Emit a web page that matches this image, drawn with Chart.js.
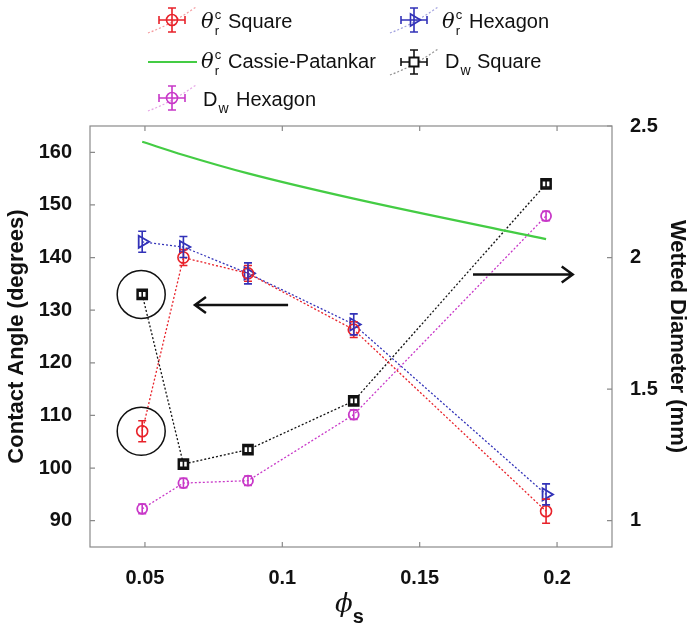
<!DOCTYPE html>
<html>
<head>
<meta charset="utf-8">
<script src="https://cdn.jsdelivr.net/npm/chart.js@4.4.0/dist/chart.umd.min.js"></script>
<style>
  html, body { margin: 0; padding: 0; background: #fff; }
</style>
</head>
<body>
<canvas id="chart" width="690" height="629"></canvas>
<script>
// solid fraction on the x axis
const phi = [0.049, 0.064, 0.0875, 0.126, 0.196];

// contact angle, left axis (degrees)
const thetaSquare = [107, 140, 137, 126.3, 91.8];
const thetaSquareErr = [2, 1.5, 1.5, 1.5, 2.3];
const thetaHexagon = [143, 142, 137, 127.3, 95];
const thetaHexagonErr = [2, 2, 2, 2, 2];
const cassiePatankar = [162, 159.5, 156, 151.2, 143.5];

// wetted diameter, right axis (mm)
const dwSquare = [1.86, 1.215, 1.27, 1.455, 2.28];
const dwSquareErr = [0.012, 0.012, 0.012, 0.012, 0.012];
const dwHexagon = [1.045, 1.143, 1.152, 1.403, 2.158];
const dwHexagonErr = [0.018, 0.018, 0.018, 0.018, 0.018];

const xTicks = [0.05, 0.1, 0.15, 0.2];
const leftTicks = [90, 100, 110, 120, 130, 140, 150, 160];
const rightTicks = [1, 1.5, 2, 2.5];

const red = '#e8222a';
const blue = '#3232b8';
const green = '#44cc44';
const magenta = '#c838c8';
const black = '#111111';
const sans = '"Liberation Sans", Arial, Helvetica, sans-serif';

const pts = ys => ys.map((y, i) => ({ x: phi[i], y: y }));

// error bars drawn on top of the points
const errSeries = [
  { ys: thetaSquare, errs: thetaSquareErr, axis: 'y', color: red },
  { ys: thetaHexagon, errs: thetaHexagonErr, axis: 'y', color: blue },
  { ys: dwSquare, errs: dwSquareErr, axis: 'y2', color: black },
  { ys: dwHexagon, errs: dwHexagonErr, axis: 'y2', color: magenta },
];

// arrows pointing to the axis each group belongs to: [x tail, x tip, y on left axis]
const arrows = [
  [0.1021, 0.0682, 131.0],
  [0.1694, 0.2057, 136.8],
];

function drawMarker(ctx, kind, x, y, color) {
  ctx.save();
  ctx.strokeStyle = color;
  ctx.lineWidth = 1.6;
  ctx.beginPath();
  if (kind === 'circle') {
    ctx.arc(x, y, 5.5, 0, Math.PI * 2);
    ctx.stroke();
  } else if (kind === 'triangle') {
    ctx.moveTo(x + 6.5, y);
    ctx.lineTo(x - 3.5, y - 6);
    ctx.lineTo(x - 3.5, y + 6);
    ctx.closePath();
    ctx.stroke();
  } else if (kind === 'rect') {
    ctx.fillStyle = '#fff';
    ctx.rect(x - 4.5, y - 4.5, 9, 9);
    ctx.fill();
    ctx.lineWidth = 2;
    ctx.stroke();
  }
  ctx.restore();
}

function drawIcon(ctx, cx, cy, color, kind) {
  ctx.save();
  // faint dotted sample line
  ctx.strokeStyle = color;
  ctx.globalAlpha = 0.45;
  ctx.lineWidth = 1.2;
  ctx.setLineDash([2, 2]);
  ctx.beginPath();
  ctx.moveTo(cx - 24, cy + 13);
  ctx.quadraticCurveTo(cx, cy + 4, cx + 24, cy - 13);
  ctx.stroke();
  ctx.restore();

  ctx.save();
  ctx.strokeStyle = color;
  ctx.lineWidth = 1.6;
  ctx.beginPath();
  ctx.moveTo(cx, cy - 12); ctx.lineTo(cx, cy + 12);
  ctx.moveTo(cx - 4, cy - 12); ctx.lineTo(cx + 4, cy - 12);
  ctx.moveTo(cx - 4, cy + 12); ctx.lineTo(cx + 4, cy + 12);
  ctx.moveTo(cx - 13, cy); ctx.lineTo(cx + 13, cy);
  ctx.moveTo(cx - 13, cy - 4); ctx.lineTo(cx - 13, cy + 4);
  ctx.moveTo(cx + 13, cy - 4); ctx.lineTo(cx + 13, cy + 4);
  ctx.stroke();
  ctx.restore();
  drawMarker(ctx, kind, cx, cy, color);
}

function drawTheta(ctx, x, base) {
  ctx.font = 'italic 21px "DejaVu Serif", serif';
  ctx.fillText('\u03b8', x, base);
  const w = ctx.measureText('\u03b8').width;
  ctx.font = '13px ' + sans;
  ctx.fillText('c', x + w + 1, base - 9);
  ctx.fillText('r', x + w + 1, base + 7);
}

function drawD(ctx, x, base) {
  ctx.font = '20px ' + sans;
  ctx.fillText('D', x, base);
  const w = ctx.measureText('D').width;
  ctx.font = '14px ' + sans;
  ctx.fillText('w', x + w + 1, base + 7);
}

const extras = {
  id: 'extras',
  afterDatasetsDraw(chart) {
    const ctx = chart.ctx;
    const xs = chart.scales.x;
    ctx.save();
    errSeries.forEach(s => {
      const ys = chart.scales[s.axis];
      ctx.strokeStyle = s.color;
      ctx.lineWidth = 1.6;
      s.ys.forEach((v, i) => {
        const px = xs.getPixelForValue(phi[i]);
        const top = ys.getPixelForValue(v + s.errs[i]);
        const bot = ys.getPixelForValue(v - s.errs[i]);
        ctx.beginPath();
        ctx.moveTo(px, top); ctx.lineTo(px, bot);
        ctx.moveTo(px - 4, top); ctx.lineTo(px + 4, top);
        ctx.moveTo(px - 4, bot); ctx.lineTo(px + 4, bot);
        ctx.stroke();
      });
    });
    ctx.restore();
  },
  afterDraw(chart) {
    const ctx = chart.ctx;
    const a = chart.chartArea;
    const xs = chart.scales.x, yl = chart.scales.y, yr = chart.scales.y2;
    ctx.save();

    // box and inward ticks
    ctx.strokeStyle = '#8a8a8a';
    ctx.lineWidth = 1.2;
    ctx.strokeRect(a.left, a.top, a.right - a.left, a.bottom - a.top);
    ctx.beginPath();
    xTicks.forEach(v => {
      const p = xs.getPixelForValue(v);
      ctx.moveTo(p, a.bottom); ctx.lineTo(p, a.bottom - 5);
      ctx.moveTo(p, a.top); ctx.lineTo(p, a.top + 5);
    });
    leftTicks.forEach(v => {
      const p = yl.getPixelForValue(v);
      ctx.moveTo(a.left, p); ctx.lineTo(a.left + 5, p);
    });
    rightTicks.forEach(v => {
      const p = yr.getPixelForValue(v);
      ctx.moveTo(a.right, p); ctx.lineTo(a.right - 5, p);
    });
    ctx.stroke();

    // circles around the first points
    ctx.strokeStyle = black;
    ctx.lineWidth = 1.5;
    const cx = xs.getPixelForValue(phi[0]);
    [yl.getPixelForValue(thetaSquare[0]), yr.getPixelForValue(dwSquare[0])].forEach(cy => {
      ctx.beginPath();
      ctx.arc(cx - 1, cy, 24, 0, Math.PI * 2);
      ctx.stroke();
    });

    // arrows
    ctx.lineWidth = 2.5;
    arrows.forEach(([x0, x1, yv]) => {
      const p0 = xs.getPixelForValue(x0), p1 = xs.getPixelForValue(x1), py = yl.getPixelForValue(yv);
      const d = p1 > p0 ? -1 : 1;
      ctx.beginPath();
      ctx.moveTo(p0, py); ctx.lineTo(p1, py);
      ctx.moveTo(p1 + d * 11, py - 8); ctx.lineTo(p1, py); ctx.lineTo(p1 + d * 11, py + 8);
      ctx.stroke();
    });

    // x axis title
    ctx.fillStyle = black;
    ctx.textAlign = 'left';
    ctx.textBaseline = 'alphabetic';
    ctx.font = 'italic 26px "DejaVu Serif", serif';
    ctx.fillText('\u03d5', 335, 612);
    const pw = ctx.measureText('\u03d5').width;
    ctx.font = 'bold 20px ' + sans;
    ctx.fillText('s', 335 + pw, 623);

    // legend
    drawIcon(ctx, 172, 20, red, 'circle');
    drawTheta(ctx, 201, 28);
    ctx.font = '20px ' + sans;
    ctx.fillText('Square', 228, 28);

    drawIcon(ctx, 414, 20, blue, 'triangle');
    drawTheta(ctx, 442, 28);
    ctx.font = '20px ' + sans;
    ctx.fillText('Hexagon', 469, 28);

    ctx.strokeStyle = green;
    ctx.lineWidth = 2.2;
    ctx.beginPath();
    ctx.moveTo(148, 62); ctx.lineTo(197, 62);
    ctx.stroke();
    drawTheta(ctx, 201, 68);
    ctx.font = '20px ' + sans;
    ctx.fillText('Cassie-Patankar', 228, 68);

    drawIcon(ctx, 414, 62, black, 'rect');
    drawD(ctx, 445, 68);
    ctx.font = '20px ' + sans;
    ctx.fillText('Square', 477, 68);

    drawIcon(ctx, 172, 98, magenta, 'circle');
    drawD(ctx, 203, 106);
    ctx.font = '20px ' + sans;
    ctx.fillText('Hexagon', 236, 106);

    ctx.restore();
  }
};

const tickFont = { family: sans, size: 20, weight: 'bold' };
const titleFont = { family: sans, size: 22, weight: 'bold' };

new Chart(document.getElementById('chart'), {
  type: 'line',
  data: {
    datasets: [
      {
        label: 'theta Square', data: pts(thetaSquare), yAxisID: 'y',
        borderColor: red, borderWidth: 1.3, borderDash: [2, 2],
        pointStyle: 'circle', pointRadius: 5.5, pointBorderWidth: 1.6,
        pointBorderColor: red, pointBackgroundColor: 'rgba(0,0,0,0)'
      },
      {
        label: 'theta Hexagon', data: pts(thetaHexagon), yAxisID: 'y',
        borderColor: blue, borderWidth: 1.3, borderDash: [2, 2],
        pointStyle: 'triangle', pointRotation: 90, pointRadius: 7, pointBorderWidth: 1.8,
        pointBorderColor: blue, pointBackgroundColor: 'rgba(0,0,0,0)'
      },
      {
        label: 'Cassie-Patankar', data: pts(cassiePatankar), yAxisID: 'y',
        borderColor: green, borderWidth: 2.2, pointRadius: 0,
        cubicInterpolationMode: 'monotone'
      },
      {
        label: 'Dw Square', data: pts(dwSquare), yAxisID: 'y2',
        borderColor: black, borderWidth: 1.3, borderDash: [2, 2],
        pointStyle: 'rect', pointRadius: 6.5, pointBorderWidth: 2.5,
        pointBorderColor: black, pointBackgroundColor: '#fff'
      },
      {
        label: 'Dw Hexagon', data: pts(dwHexagon), yAxisID: 'y2',
        borderColor: magenta, borderWidth: 1.3, borderDash: [2, 2],
        pointStyle: 'circle', pointRadius: 5, pointBorderWidth: 1.8,
        pointBorderColor: magenta, pointBackgroundColor: 'rgba(0,0,0,0)'
      }
    ]
  },
  options: {
    responsive: false,
    animation: false,
    devicePixelRatio: 1,
    layout: { padding: { top: 126, left: 0, right: 0, bottom: 0 } },
    plugins: { legend: { display: false }, tooltip: { enabled: false } },
    scales: {
      x: {
        type: 'linear', min: 0.03, max: 0.22,
        grid: { display: false }, border: { display: false },
        afterBuildTicks: s => { s.ticks = xTicks.map(v => ({ value: v })); },
        afterFit: s => { s.height = 82; },
        ticks: { font: tickFont, color: black, padding: 11, autoSkip: false, maxRotation: 0,
                 callback: v => String(v) }
      },
      y: {
        type: 'linear', position: 'left', min: 85, max: 165,
        grid: { display: false }, border: { display: false },
        afterBuildTicks: s => { s.ticks = leftTicks.map(v => ({ value: v })); },
        afterFit: s => { s.width = 90; },
        ticks: { font: tickFont, color: black, padding: 10, autoSkip: false },
        title: { display: true, text: 'Contact Angle (degrees)', color: black,
                 font: titleFont, padding: { top: 4, bottom: 0 } }
      },
      y2: {
        type: 'linear', position: 'right', min: 0.9, max: 2.5,
        grid: { display: false }, border: { display: false },
        afterBuildTicks: s => { s.ticks = rightTicks.map(v => ({ value: v })); },
        afterFit: s => { s.width = 78; },
        ticks: { font: tickFont, color: black, padding: 10, autoSkip: false,
                 callback: v => String(v) },
        title: { display: true, text: 'Wetted Diameter (mm)', color: black,
                 font: titleFont, padding: { top: 0, bottom: 0 } }
      }
    }
  },
  plugins: [extras]
});
</script>
</body>
</html>
